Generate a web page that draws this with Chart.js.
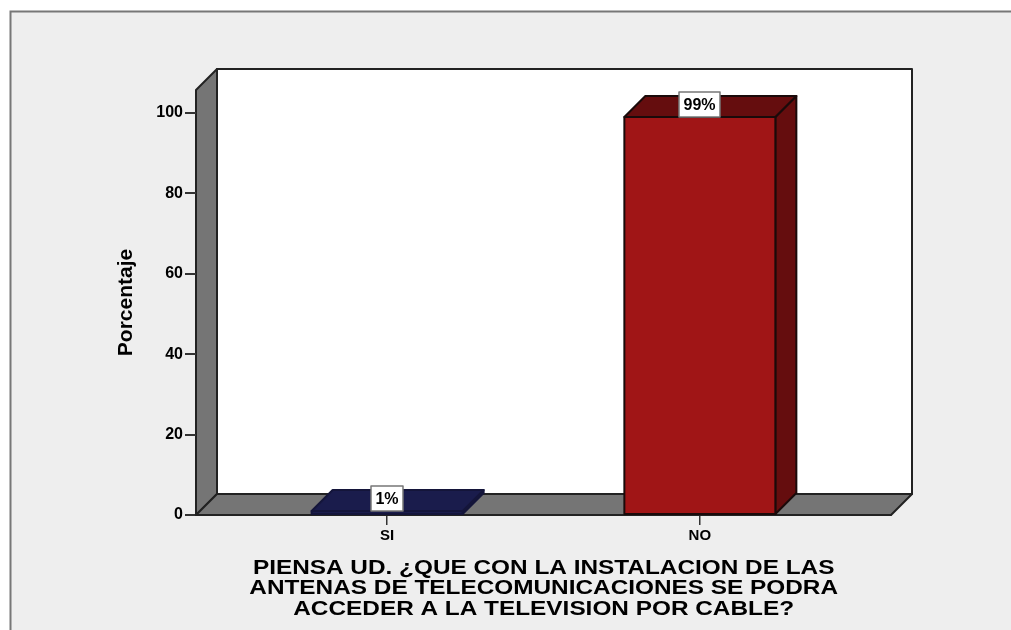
<!DOCTYPE html>
<html><head><meta charset="utf-8">
<style>html,body{margin:0;padding:0;background:#fff}#w{width:1011px;height:630px;position:relative}</style>
<script src="https://cdn.jsdelivr.net/npm/chart.js@4"></script></head>
<body><div id="w"><canvas id="c" width="1011" height="630"></canvas></div>
<script>
const categories = ['SI', 'NO'];
const values = [1, 99];
const yTickValues = [0, 20, 40, 60, 80, 100];
const frontColors = ['#1a1c4c', '#a01516'];
const sideColors = ['#1a1c4c', '#650d0e'];
const edgeColors = ['#14153a', '#1a0a0a'];
const xAxisTitle = ['PIENSA UD. ¿QUE CON LA INSTALACION DE LAS', 'ANTENAS DE TELECOMUNICACIONES SE PODRA', 'ACCEDER A LA TELEVISION POR CABLE?'];
const yAxisTitle = 'Porcentaje';
const D = 21;
const FONT = '"Liberation Sans", Arial, sans-serif';

function poly(ctx, pts, fill, stroke, lw) {
  ctx.beginPath();
  pts.forEach((p, i) => i ? ctx.lineTo(p[0], p[1]) : ctx.moveTo(p[0], p[1]));
  ctx.closePath();
  if (fill) { ctx.fillStyle = fill; ctx.fill(); }
  if (stroke) { ctx.strokeStyle = stroke; ctx.lineWidth = lw || 2; ctx.lineJoin = 'round'; ctx.stroke(); }
}
// The reference's lettering is wider than the font: stretch the axis title horizontally around its centre.
function stretchTitle(scale, k) {
  if (scale._stretched) return;
  scale._stretched = true;
  const orig = scale.drawTitle;
  scale.drawTitle = function () {
    const ctx = this.ctx, cx = (this.left + this.right) / 2 - 1;
    ctx.save();
    ctx.translate(cx, 0); ctx.scale(k, 1); ctx.translate(-cx, 0);
    orig.call(this);
    ctx.restore();
  };
}
const scene = {
  id: 'scene',
  beforeDraw(chart) {
    const ctx = chart.ctx, a = chart.chartArea;
    ctx.save();
    ctx.fillStyle = '#fff'; ctx.fillRect(0, 0, 1011, 630);
    ctx.fillStyle = '#eeeeee'; ctx.fillRect(10, 11, 1001, 619);
    ctx.strokeStyle = '#777'; ctx.lineWidth = 2;
    ctx.beginPath(); ctx.moveTo(10.5, 630); ctx.lineTo(10.5, 11.5); ctx.lineTo(1011, 11.5); ctx.stroke();
    const L = a.left, R = a.right, T = a.top, B = a.bottom;
    poly(ctx, [[L + D, T - D], [R + D, T - D], [R + D, B - D], [L + D, B - D]], '#fff', '#222', 2);
    poly(ctx, [[L, T], [L + D, T - D], [L + D, B - D], [L, B]], '#757575', '#222', 2);
    poly(ctx, [[L, B], [L + D, B - D], [R + D, B - D], [R, B]], '#757575', '#222', 2);
    ctx.restore();
  },
  afterDatasetsDraw(chart) {
    const ctx = chart.ctx;
    const els = chart.getDatasetMeta(0).data;
    ctx.save();
    els.forEach((b, i) => {
      const l = b.x - b.width / 2, r = b.x + b.width / 2, t = b.y, base = b.base;
      poly(ctx, [[r, t], [r + D, t - D], [r + D, base - D], [r, base]], sideColors[i], edgeColors[i], 2);
      poly(ctx, [[l, t], [l + D, t - D], [r + D, t - D], [r, t]], sideColors[i], edgeColors[i], 2);
      poly(ctx, [[l, t], [r, t], [r, base], [l, base]], frontColors[i], edgeColors[i], 2);
    });
    els.forEach((b, i) => {
      const txt = values[i] + '%';
      ctx.font = 'bold 16px ' + FONT;
      const w = Math.round(ctx.measureText(txt).width) + 9, h = 25;
      const x = Math.round(b.x - w / 2), y = Math.round(b.y - h);
      ctx.fillStyle = '#fff'; ctx.fillRect(x, y, w, h);
      ctx.strokeStyle = '#777'; ctx.lineWidth = 1.5; ctx.strokeRect(x, y, w, h);
      ctx.fillStyle = '#000'; ctx.textAlign = 'center'; ctx.textBaseline = 'middle';
      ctx.fillText(txt, x + w / 2, y + h / 2 + 1);
    });
    ctx.restore();
  }
};
new Chart(document.getElementById('c'), {
  type: 'bar',
  data: {
    datasets: [{
      data: values.map((v, i) => ({ x: i, y: v })),
      backgroundColor: frontColors,
      barThickness: 151,
      borderWidth: 0
    }]
  },
  options: {
    responsive: false, animation: false,
    layout: { padding: { top: 90, right: 120, left: 0, bottom: 0 } },
    plugins: { legend: { display: false }, tooltip: { enabled: false }, title: { display: false } },
    scales: {
      x: {
        type: 'linear', min: -0.6112, max: 1.6112, offset: false,
        afterBuildTicks(s) { s.ticks = categories.map((_, i) => ({ value: i })); },
        afterFit(s) { s.height = 115; stretchTitle(s, 1.16); },
        grid: { display: true, offset: false, drawOnChartArea: false, drawTicks: true, tickLength: 10, color: '#333', lineWidth: 1.5 },
        border: { display: true, color: '#222', width: 2 },
        ticks: { autoSkip: false, maxRotation: 0, padding: 2, color: '#000', font: { family: FONT, weight: 'bold', size: 15 },
          callback: v => categories[v] },
        title: { display: true, text: xAxisTitle, color: '#000', font: { family: FONT, weight: 'bold', size: 21, lineHeight: 0.97 }, padding: { top: 8, bottom: 11 } }
      },
      y: {
        min: 0, max: 105.72,
        afterBuildTicks(s) { s.ticks = yTickValues.map(v => ({ value: v })); },
        afterFit(s) { s.width = 196; },
        grid: { display: true, drawOnChartArea: false, drawTicks: true, tickLength: 11, color: '#333', lineWidth: 2 },
        border: { display: false },
        ticks: { padding: 2, color: '#000', font: { family: FONT, weight: 'bold', size: 16 } },
        title: { display: true, text: yAxisTitle, color: '#000', font: { family: FONT, weight: 'bold', size: 21 }, padding: { top: 114, bottom: 0 } }
      }
    }
  },
  plugins: [scene]
});
</script></body></html>
